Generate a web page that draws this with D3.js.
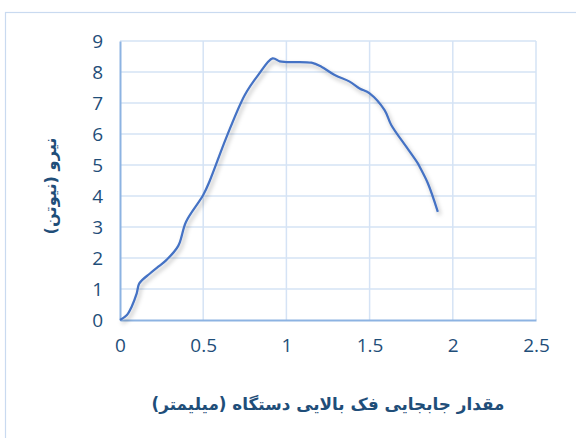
<!DOCTYPE html>
<html><head><meta charset="utf-8">
<script src="https://cdn.jsdelivr.net/npm/d3@7"></script>
<style>body{margin:0;background:#fff}svg{display:block}</style>
</head><body>
<svg id="c" width="576" height="438"></svg>
<script>
const displacement = [0, 0.04, 0.07, 0.1, 0.116, 0.18, 0.23, 0.28, 0.35, 0.397, 0.5, 0.54, 0.64, 0.75, 0.83, 0.917, 0.96, 1.0, 1.15, 1.21, 1.29, 1.38, 1.44, 1.50, 1.59, 1.63, 1.72, 1.79, 1.80, 1.85, 1.91];
const force =        [0, 0.15, 0.43, 0.85, 1.18, 1.5, 1.72, 1.94, 2.39, 3.17, 4.03, 4.5, 5.9, 7.26, 7.9, 8.44, 8.34, 8.32, 8.3, 8.17, 7.9, 7.69, 7.47, 7.31, 6.77, 6.29, 5.59, 5.05, 4.95, 4.41, 3.49];
const xTicks = [0, 0.5, 1, 1.5, 2, 2.5];
const yTicks = [0, 1, 2, 3, 4, 5, 6, 7, 8, 9];
const xTitle = "مقدار جابجایی فک بالایی دستگاه (میلیمتر)";
const yTitle = "نیرو (نیوتن)";

const svg = d3.select("#c");
const L = 120, R = 536, T = 41, B = 320;
const x = d3.scaleLinear().domain([0, 2.5]).range([L, R]);
const y = d3.scaleLinear().domain([0, 9]).range([B, T]);

svg.append("rect").attr("x", 5.5).attr("y", 12.5).attr("width", 600).attr("height", 500)
  .attr("fill", "#fff").attr("stroke", "#C9DAF0").attr("stroke-width", 1.2);

const defs = svg.append("defs");
const f = defs.append("filter").attr("id", "sh").attr("x", "-10%").attr("y", "-10%").attr("width", "130%").attr("height", "130%");
f.append("feDropShadow").attr("dx", 2).attr("dy", 3).attr("stdDeviation", 2).attr("flood-color", "#000").attr("flood-opacity", 0.28);

const grid = svg.append("g");
grid.selectAll(".gx").data(xTicks.slice(1)).join("line")
  .attr("x1", d => x(d)).attr("x2", d => x(d)).attr("y1", T).attr("y2", B)
  .attr("stroke", "#D5E3F5").attr("stroke-width", 1.5);
grid.selectAll(".gy").data(yTicks.slice(1)).join("line")
  .attr("x1", L).attr("x2", R).attr("y1", d => y(d)).attr("y2", d => y(d))
  .attr("stroke", "#D5E3F5").attr("stroke-width", 1.5);

const xAxis = d3.axisBottom(x).tickValues(xTicks).tickSize(0).tickPadding(22).tickFormat(d3.format("~g"));
const yAxis = d3.axisLeft(y).tickValues(yTicks).tickSize(0).tickPadding(17).tickFormat(d3.format("d"));
const gx = svg.append("g").attr("transform", `translate(0,${B})`).call(xAxis);
const gy = svg.append("g").attr("transform", `translate(${L},0)`).call(yAxis);
[gx, gy].forEach(g => {
  g.select(".domain").attr("stroke", "#8DB3E2").attr("stroke-width", 2);
  g.selectAll("text").attr("fill", "#1F4E79").style("font-family", "'Open Sans', sans-serif").style("font-size", "19px");
});
gy.selectAll("text").attr("dy", "0.35em");
gx.selectAll("text").attr("dy", "0.55em");

const line = d3.line().x((d, i) => x(displacement[i])).y((d, i) => y(force[i])).curve(d3.curveCatmullRom.alpha(0.5));
svg.append("path").datum(force).attr("d", line).attr("fill", "none")
  .attr("stroke", "#4472C4").attr("stroke-width", 2.25).attr("stroke-linejoin", "round").attr("filter", "url(#sh)");

function fitText(t, w) {
  const len = t.node().getComputedTextLength();
  const fs = parseFloat(t.style("font-size"));
  t.style("font-size", (fs * w / len) + "px");
}
const xt = svg.append("text").attr("x", 328).attr("y", 410).attr("text-anchor", "middle")
  .attr("direction", "rtl").attr("fill", "#1F4E79").style("font-family", "'DejaVu Sans', sans-serif")
  .style("font-weight", "bold").style("font-size", "16px").text(xTitle);
fitText(xt, 353);
const yt = svg.append("text").attr("transform", "translate(56,186) rotate(-90)").attr("text-anchor", "middle")
  .attr("direction", "rtl").attr("fill", "#1F4E79").style("font-family", "'DejaVu Sans', sans-serif")
  .style("font-weight", "bold").style("font-size", "16px").text(yTitle);
fitText(yt, 97);
</script>
</body></html>
